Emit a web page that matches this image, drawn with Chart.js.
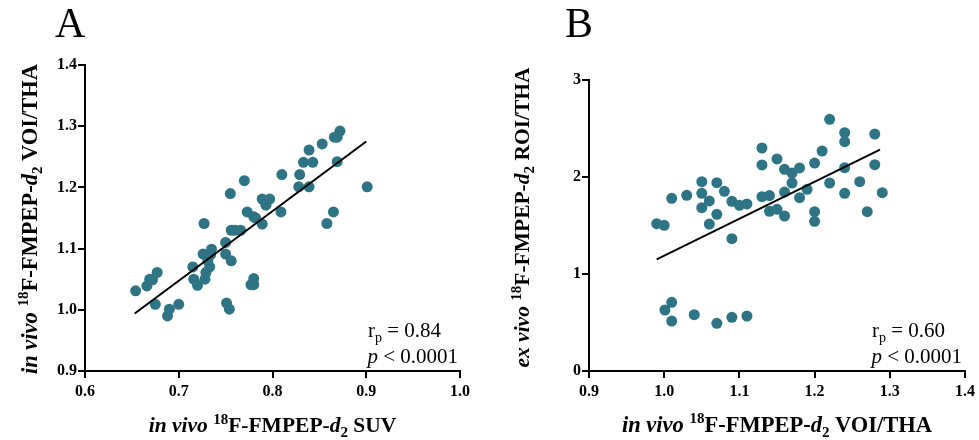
<!DOCTYPE html>
<html>
<head>
<meta charset="utf-8">
<script src="https://cdn.jsdelivr.net/npm/chart.js@4/dist/chart.umd.min.js"></script>
<style>
  html, body { margin: 0; padding: 0; background: #fff; }
  #wrap { position: relative; width: 979px; height: 440px; }
  canvas { position: absolute; top: 0; }
  #chartA { left: 0; }
  #chartB { left: 490px; }
</style>
</head>
<body>
<div id="wrap">
  <canvas id="chartA" width="490" height="440"></canvas>
  <canvas id="chartB" width="489" height="440"></canvas>
</div>
<script>
// Panel A: in vivo SUV vs in vivo VOI/THA
const suvA = [0.654, 0.666, 0.669, 0.672, 0.677, 0.675, 0.700, 0.690, 0.688, 0.715,
  0.716, 0.720, 0.727, 0.726, 0.731, 0.733, 0.729, 0.728, 0.735, 0.734,
  0.750, 0.750, 0.756, 0.751, 0.754, 0.755, 0.756, 0.760, 0.766, 0.770,
  0.773, 0.780, 0.782, 0.789, 0.789, 0.793, 0.797, 0.780, 0.780, 0.777,
  0.810, 0.809, 0.829, 0.828, 0.839, 0.833, 0.843, 0.839, 0.853, 0.866,
  0.869, 0.872, 0.869, 0.865, 0.858, 0.901];
const voiA = [1.031, 1.039, 1.050, 1.049, 1.061, 1.009, 1.009, 1.001, 0.990, 1.070,
  1.050, 1.040, 1.141, 1.091, 1.080, 1.070, 1.061, 1.050, 1.099, 1.090,
  1.110, 1.091, 1.080, 1.011, 1.001, 1.190, 1.130, 1.130, 1.130, 1.211,
  1.160, 1.152, 1.150, 1.140, 1.181, 1.171, 1.181, 1.051, 1.041, 1.041,
  1.221, 1.160, 1.221, 1.201, 1.201, 1.241, 1.241, 1.261, 1.271, 1.282,
  1.282, 1.292, 1.242, 1.160, 1.141, 1.201];
const fitA = [[0.653, 0.994], [0.900, 1.275]];
const statsA = ['0.84', '< 0.0001'];

// Panel B: in vivo VOI/THA vs ex vivo ROI/THA
const voiB = [0.990, 1.000, 1.010, 1.030, 1.050, 1.050, 1.050, 1.060, 1.060, 1.070,
  1.070, 1.080, 1.090, 1.090, 1.100, 1.110, 1.130, 1.130, 1.130, 1.140,
  1.140, 1.150, 1.150, 1.160, 1.160, 1.160, 1.170, 1.170, 1.180, 1.180,
  1.190, 1.200, 1.200, 1.200, 1.210, 1.220, 1.220, 1.240, 1.240, 1.240,
  1.240, 1.260, 1.270, 1.280, 1.280, 1.290,
  1.001, 1.010, 1.010, 1.040, 1.070, 1.090, 1.110];
const roiB = [1.519, 1.502, 1.780, 1.811, 1.952, 1.832, 1.684, 1.753, 1.515, 1.942,
  1.615, 1.852, 1.749, 1.364, 1.708, 1.722, 2.299, 2.124, 1.797, 1.808,
  1.646, 2.186, 1.667, 2.079, 1.845, 1.598, 2.041, 1.938, 2.093, 1.787,
  1.873, 2.144, 1.642, 1.543, 2.268, 2.595, 1.938, 2.457, 2.364, 2.096,
  1.832, 1.952, 1.642, 2.443, 2.127, 1.838,
  0.629, 0.708, 0.515, 0.581, 0.491, 0.553, 0.567];
const fitB = [[0.990, 1.151], [1.287, 2.282]];
const statsB = ['0.60', '< 0.0001'];

const DOT = 'rgb(46, 116, 133)';
const SERIF = '"Liberation Serif", "Times New Roman", serif';

// draws a list of [text, style] runs; style: 'b', 'bi', 'sup', 'sub', 'r', 'i', 'rsub'
function runFont(style, size) {
  switch (style) {
    case 'b': return 'bold ' + size + 'px ' + SERIF;
    case 'bi': return 'italic bold ' + size + 'px ' + SERIF;
    case 'sup': case 'sub': return 'bold ' + Math.round(size * 0.68) + 'px ' + SERIF;
    case 'rsub': return Math.round(size * 0.68) + 'px ' + SERIF;
    case 'i': return 'italic ' + size + 'px ' + SERIF;
    default: return size + 'px ' + SERIF;
  }
}
function runShift(style, size) {
  if (style === 'sup') return -size * 0.38;
  if (style === 'sub' || style === 'rsub') return size * 0.22;
  return 0;
}
function runsWidth(ctx, runs, size) {
  let w = 0;
  runs.forEach(([t, s]) => { ctx.font = runFont(s, size); w += ctx.measureText(t).width; });
  return w;
}
function drawRuns(ctx, runs, size, x, y, align) {
  const w = runsWidth(ctx, runs, size);
  let cx = align === 'center' ? x - w / 2 : align === 'right' ? x - w : x;
  ctx.textAlign = 'left';
  ctx.textBaseline = 'alphabetic';
  ctx.fillStyle = '#000';
  runs.forEach(([t, s]) => {
    ctx.font = runFont(s, size);
    ctx.fillText(t, cx, y + runShift(s, size));
    cx += ctx.measureText(t).width;
  });
}

const labelsPlugin = {
  id: 'panelText',
  afterDraw(chart, args, opts) {
    const ctx = chart.ctx;
    const area = chart.chartArea;
    ctx.save();
    // panel letter
    ctx.font = '42px ' + SERIF;
    ctx.fillStyle = '#000';
    ctx.textAlign = 'left';
    ctx.fillText(opts.letter, opts.letterX, 37);
    // x title
    drawRuns(ctx, opts.xTitle, opts.xSize, (area.left + area.right) / 2, 432, 'center');
    // y title, rotated
    ctx.save();
    ctx.translate(opts.yTitleX, (area.top + area.bottom) / 2 + opts.yShift);
    ctx.rotate(-Math.PI / 2);
    drawRuns(ctx, opts.yTitle, opts.ySize, 0, 0, 'center');
    ctx.restore();
    // correlation stats
    const rx = opts.statsX;
    drawRuns(ctx, [['r', 'r'], ['p', 'rsub'], [' = ' + opts.stats[0], 'r']], 21, rx, opts.statsY, 'right');
    drawRuns(ctx, [['p', 'i'], [' ' + opts.stats[1], 'r']], 21, rx + 17, opts.statsY + 26, 'right');
    ctx.restore();
  }
};

const axisStyle = (min, max, step, digits, pad) => ({
  type: 'linear',
  min: min,
  max: max,
  border: { display: true, color: '#000', width: 2 },
  grid: { drawOnChartArea: false, drawTicks: true, tickLength: 7, color: '#000', lineWidth: 2 },
  ticks: {
    stepSize: step,
    padding: pad,
    color: '#000',
    font: { family: SERIF, size: 16, weight: 'bold' },
    callback: (v) => v.toFixed(digits)
  }
});

const makePanel = (canvas, xs, ys, fit, xAxis, yAxis, yWidth, pad, text) => {
  const points = xs.map((x, i) => ({ x: x, y: ys[i] }));
  const fitLine = fit.map(([x, y]) => ({ x: x, y: y }));
  const x = axisStyle(...xAxis, 4);
  const y = axisStyle(...yAxis, 1);
  x.afterFit = (s) => { s.height = 69; };
  y.afterFit = (s) => { s.width = yWidth; };
  return new Chart(canvas.getContext('2d'), {
    type: 'scatter',
    data: {
      datasets: [
        {
          data: points,
          backgroundColor: DOT,
          borderColor: DOT,
          borderWidth: 0,
          pointRadius: 5.5,
          order: 2
        },
        {
          type: 'line',
          data: fitLine,
          borderColor: '#000',
          borderWidth: 2,
          pointRadius: 0,
          fill: false,
          order: 1
        }
      ]
    },
    options: {
      responsive: false,
      devicePixelRatio: 1,
      animation: false,
      layout: { padding: pad },
      scales: { x: x, y: y },
      plugins: {
        legend: { display: false },
        tooltip: { enabled: false },
        panelText: text
      }
    },
    plugins: [labelsPlugin]
  });
};

makePanel(
  document.getElementById('chartA'), suvA, voiA, fitA,
  [0.6, 1.0, 0.1, 1], [0.9, 1.4, 0.1, 1], 85,
  { left: 0, top: 65, right: 30, bottom: 0 },
  {
    letter: 'A', letterX: 55, yTitleX: 37, yShift: 1, statsX: 441, statsY: 337, stats: statsA,
    xSize: 21.5, ySize: 22.5,
    xTitle: [['in vivo ', 'bi'], ['18', 'sup'], ['F-FMPEP-', 'b'], ['d', 'bi'], ['2', 'sub'], [' SUV', 'b']],
    yTitle: [['in vivo ', 'bi'], ['18', 'sup'], ['F-FMPEP-', 'b'], ['d', 'bi'], ['2', 'sub'], [' VOI/THA', 'b']]
  }
);

makePanel(
  document.getElementById('chartB'), voiB, roiB, fitB,
  [0.9, 1.4, 0.1, 1], [0, 3, 1, 0], 99,
  { left: 0, top: 80, right: 13, bottom: 0 },
  {
    letter: 'B', letterX: 75, yTitleX: 39, yShift: -8, statsX: 455, statsY: 337, stats: statsB,
    xSize: 22.5, ySize: 21.5,
    xTitle: [['in vivo ', 'bi'], ['18', 'sup'], ['F-FMPEP-', 'b'], ['d', 'bi'], ['2', 'sub'], [' VOI/THA', 'b']],
    yTitle: [['ex vivo ', 'bi'], ['18', 'sup'], ['F-FMPEP-', 'b'], ['d', 'bi'], ['2', 'sub'], [' ROI/THA', 'b']]
  }
);
</script>
</body>
</html>
